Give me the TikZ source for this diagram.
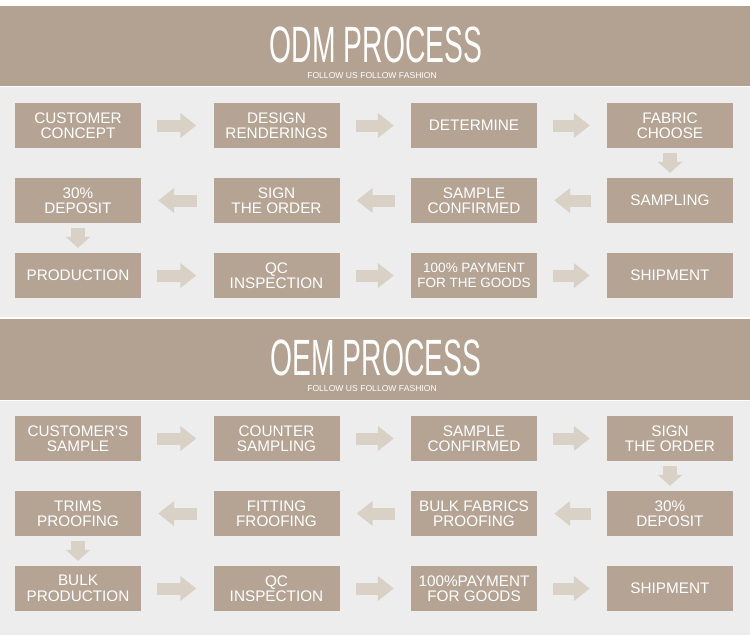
\documentclass[tikz,border=0pt]{standalone}
\usepackage{fontspec}
\setmainfont{Liberation Sans}
\newfontfamily\titlefont[FakeStretch=0.555]{Liberation Sans}
\usetikzlibrary{arrows.meta}
\definecolor{banner}{HTML}{B3A291}
\definecolor{boxc}{HTML}{B5A494}
\definecolor{arrowc}{HTML}{D9D0C6}
\definecolor{panel}{HTML}{EDEDED}

\begin{document}
\begin{tikzpicture}[x=1pt,y=-1pt,
  box/.style={fill=boxc,text=white,minimum width=126pt,minimum height=45pt,inner sep=0pt,align=center,font=\fontsize{15.3}{15.5}\selectfont},
  flow/.style={arrowc,line width=12pt,-{Triangle[length=16pt,width=24pt]},shorten <=16pt,shorten >=17pt},
  down/.style={arrowc,line width=14pt,-{Triangle[length=11pt,width=24pt]},shorten <=5pt,shorten >=5pt},
  head/.style={text=white,inner sep=0pt,font=\titlefont\fontsize{51}{51}\selectfont},
  sub/.style={text=white,inner sep=0pt,font=\fontsize{8.6}{9}\selectfont}]
  \useasboundingbox (0,0) rectangle (750,635);
  \fill[white] (0,0) rectangle (750,635);
  % bands
  \fill[banner] (0,6) rectangle (750,86);
  \fill[panel] (0,87) rectangle (750,317);
  \fill[banner] (0,319) rectangle (750,400);
  \fill[panel] (0,401) rectangle (750,635);

  % ODM
  \node[head] (odm) at (376,45) {ODM PROCESS};
  \node[sub] (odmsub) at (372,76) {FOLLOW US FOLLOW FASHION};
  \node[box] (a1) at (78,125.5) {CUSTOMER\\CONCEPT};
  \node[box] (a2) at (276.5,125.5) {DESIGN\\RENDERINGS};
  \node[box] (a3) at (474,125.5) {DETERMINE};
  \node[box] (a4) at (670,125.5) {FABRIC\\CHOOSE};
  \node[box] (a5) at (670,200.5) {SAMPLING};
  \node[box] (a6) at (474,200.5) {SAMPLE\\CONFIRMED};
  \node[box] (a7) at (276.5,200.5) {SIGN\\THE ORDER};
  \node[box] (a8) at (78,200.5) {30\%\\DEPOSIT};
  \node[box] (a9) at (78,275.5) {PRODUCTION};
  \node[box] (a10) at (276.5,275.5) {QC\\INSPECTION};
  \node[box,font=\fontsize{13.5}{14.5}\selectfont] (a11) at (474,275.5) {100\% PAYMENT\\FOR THE GOODS};
  \node[box] (a12) at (670,275.5) {SHIPMENT};

  % OEM
  \node[head] (oem) at (376,358) {OEM PROCESS};
  \node[sub] (oemsub) at (372,389) {FOLLOW US FOLLOW FASHION};
  \node[box] (b1) at (78,438.5) {CUSTOMER’S\\SAMPLE};
  \node[box] (b2) at (276.5,438.5) {COUNTER\\SAMPLING};
  \node[box] (b3) at (474,438.5) {SAMPLE\\CONFIRMED};
  \node[box] (b4) at (670,438.5) {SIGN\\THE ORDER};
  \node[box] (b5) at (670,513.5) {30\%\\DEPOSIT};
  \node[box] (b6) at (474,513.5) {BULK FABRICS\\PROOFING};
  \node[box] (b7) at (276.5,513.5) {FITTING\\FROOFING};
  \node[box] (b8) at (78,513.5) {TRIMS\\PROOFING};
  \node[box] (b9) at (78,588.5) {BULK\\PRODUCTION};
  \node[box] (b10) at (276.5,588.5) {QC\\INSPECTION};
  \node[box] (b11) at (474,588.5) {100\%PAYMENT\\FOR GOODS};
  \node[box] (b12) at (670,588.5) {SHIPMENT};

  \foreach \u/\v in {a1/a2,a2/a3,a3/a4,a5/a6,a6/a7,a7/a8,a9/a10,a10/a11,a11/a12,
                     b1/b2,b2/b3,b3/b4,b5/b6,b6/b7,b7/b8,b9/b10,b10/b11,b11/b12}
    {\draw[flow] (\u) -- (\v);}
  \foreach \u/\v in {a4/a5,a8/a9,b4/b5,b8/b9}
    {\draw[down] (\u) -- (\v);}
\end{tikzpicture}
\end{document}
